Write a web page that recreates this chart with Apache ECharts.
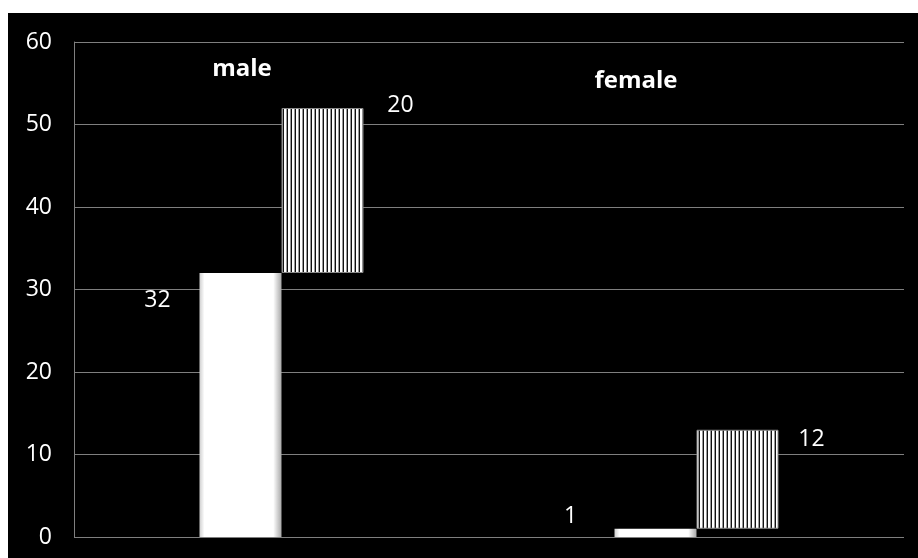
<!DOCTYPE html>
<html>
<head>
<meta charset="utf-8">
<script src="https://cdn.jsdelivr.net/npm/echarts@6/dist/echarts.min.js"></script>
<style>
  html, body { margin: 0; padding: 0; background: #fff; }
  #chart { position: absolute; left: 8px; top: 13px; width: 910px; height: 545px; }
</style>
</head>
<body>
<div id="chart"></div>
<script>
// data
const categories = ['male', 'female'];
const firstValues = [32, 1];    // plain white bars
const addedValues = [20, 12];   // striped bars, sitting on top of the first value
const yTicks = [0, 10, 20, 30, 40, 50, 60];

// vertical stripe pattern for the second bar
function stripes() {
  const c = document.createElement('canvas');
  c.width = 4; c.height = 4;
  const ctx = c.getContext('2d');
  ctx.fillStyle = '#111'; ctx.fillRect(0, 0, 4, 4);
  ctx.fillStyle = '#fff'; ctx.fillRect(0, 0, 2, 4);
  ctx.fillStyle = '#999'; ctx.fillRect(2, 0, 1, 4);
  return c;
}

const font = '"Open Sans", Lato, sans-serif';
const chart = echarts.init(document.getElementById('chart'));

chart.setOption({
  backgroundColor: '#000',
  animation: false,
  grid: { left: 66, right: 14, top: 29, bottom: 21 },
  xAxis: {
    type: 'category',
    data: categories,
    axisLine: { show: false },
    axisTick: { show: false },
    axisLabel: { show: false }
  },
  yAxis: {
    type: 'value',
    min: yTicks[0],
    max: yTicks[yTicks.length - 1],
    interval: 10,
    axisLine: { show: true, lineStyle: { color: '#7f7f7f', width: 1 } },
    axisTick: { show: false },
    splitLine: { lineStyle: { color: '#7f7f7f', width: 1 } },
    axisLabel: { color: '#fff', fontFamily: font, fontSize: 23, margin: 22 }
  },
  series: [
    {
      name: 'first',
      type: 'bar',
      barWidth: 82,
      barGap: '0%',
      data: firstValues.map((v, i) => ({
        value: v,
        label: {
          show: true,
          position: i === 0 ? [-42, 27] : [-44, -12],
          align: 'center',
          verticalAlign: 'middle',
          color: '#fff',
          fontFamily: font,
          fontSize: 23
        }
      })),
      itemStyle: {
        color: {
          type: 'linear', x: 0, y: 0, x2: 1, y2: 0,
          colorStops: [
            { offset: 0, color: '#cfcfcf' },
            { offset: 0.06, color: '#fff' },
            { offset: 0.9, color: '#fff' },
            { offset: 1, color: '#a8a8a8' }
          ]
        }
      }
    },
    {
      name: 'base',
      type: 'bar',
      stack: 'added',
      barWidth: 82,
      data: firstValues,
      itemStyle: { color: 'transparent' },
      emphasis: { disabled: true },
      silent: true
    },
    {
      name: 'added',
      type: 'bar',
      stack: 'added',
      barWidth: 82,
      data: addedValues.map((v, i) => ({
        value: v,
        label: {
          show: true,
          position: i === 0 ? [119, -3] : [115, 10],
          align: 'center',
          verticalAlign: 'middle',
          color: '#fff',
          fontFamily: font,
          fontSize: 23
        }
      })),
      itemStyle: {
        color: { image: stripes(), repeat: 'repeat' },
        borderColor: '#888',
        borderWidth: 1
      }
    }
  ],
  graphic: [
    {
      type: 'text', x: 234, y: 56,
      style: { text: categories[0], fill: '#fff', font: 'bold 24px ' + font, textAlign: 'center', textVerticalAlign: 'middle' }
    },
    {
      type: 'text', x: 628, y: 68,
      style: { text: categories[1], fill: '#fff', font: 'bold 24px ' + font, textAlign: 'center', textVerticalAlign: 'middle' }
    }
  ]
});
</script>
</body>
</html>
